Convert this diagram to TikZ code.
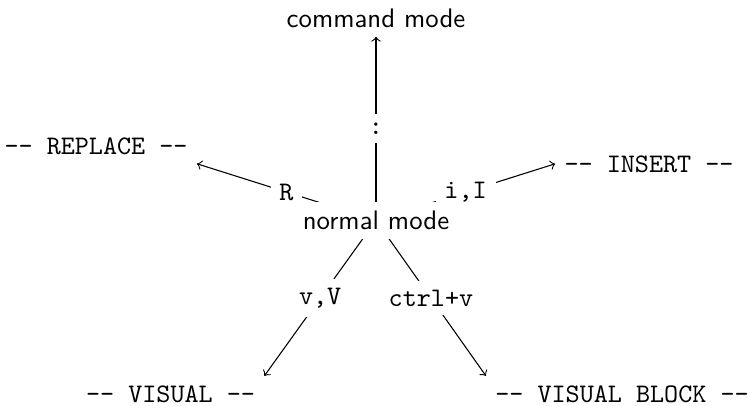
\documentclass[tikz,border=0pt]{standalone}
\usetikzlibrary{backgrounds}
\begin{document}
\begin{tikzpicture}[x=0.3731pt,y=-0.3731pt,
  mode/.style={font=\sffamily, fill=white, anchor=base},
  state/.style={font=\ttfamily, anchor=base},
  lab/.style={font=\ttfamily, fill=white},
  conn/.style={->}]
\useasboundingbox (0,0) rectangle (748,405);
\node[mode] (normal) at (376,229.5) {normal mode};
\node[mode] (command) at (376,27) {command mode};
\node[state] (replace) at (96,154) {-- REPLACE --};
\node[state] (insert) at (649,172) {-- INSERT --};
\node[state] (visual) at (170.5,402) {-- VISUAL --};
\node[state] (vblock) at (622,402) {-- VISUAL BLOCK --};
\begin{scope}[on background layer]
\draw[conn] (normal.center) -- node[lab]{:} (command.south);
\draw[conn] (normal.center) -- node[lab]{R} (replace.south east);
\draw[conn] (normal.center) -- node[lab]{i,I} (insert.west);
\draw[conn] (normal.center) -- node[lab]{v,V} (visual.north east);
\draw[conn] (normal.center) -- node[lab]{ctrl+v} (vblock.north west);
\end{scope}
\end{tikzpicture}
\end{document}
